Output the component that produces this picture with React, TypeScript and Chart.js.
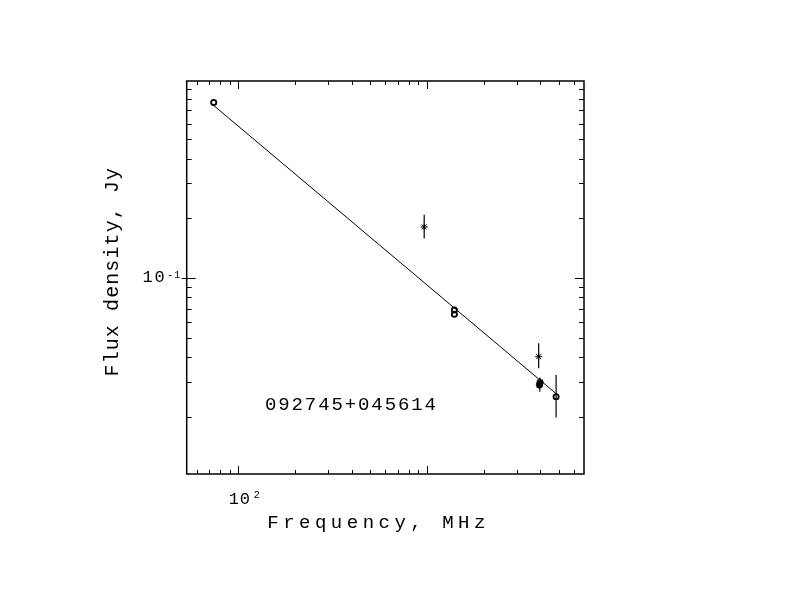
import React, { useEffect, useRef } from 'react';
import { Chart, registerables } from 'chart.js';

Chart.register(...registerables);

// axis limits (log-log)
const freqMin = 53.2;
const freqMax = 6820;
const fluxMin = 0.01026;
const fluxMax = 0.986;

// open circles
const circleFreq = [74, 1400, 1400, 4850];
const circleFlux = [0.769, 0.069, 0.0656, 0.0252];

// asterisks
const starFreq = [968, 3920, 3950, 3975, 3995];
const starFlux = [0.181, 0.0401, 0.0288, 0.0294, 0.0299];

// the dense blob near 4 GHz
const blobFreq = [3965, 3985];
const blobFlux = [0.0288, 0.0297];

// vertical error bars
const errFreq = [968, 3920, 3975, 4850];
const errLow = [0.158, 0.035, 0.0267, 0.0198];
const errHigh = [0.2085, 0.0468, 0.0315, 0.0324];

// fitted power law, end points
const fitFreq = [74, 4850];
const fitFlux = [0.742, 0.0261];

const sourceName = '092745+045614';
const xTitle = 'Frequency, MHz';
const yTitle = 'Flux density, Jy';
const xTickLabels = [{ value: 100, base: '10', exp: '2' }];
const yTickLabels = [{ value: 0.1, base: '10', exp: '-1' }];

const FONT = '"Liberation Mono", "DejaVu Sans Mono", monospace';
const INK = '#000';

// integer significand of a log tick, 0 if it is not a 1..9 x 10^n value
const significand = (v: number) => {
  const e = Math.floor(Math.log10(v) + 1e-9);
  const s = v / Math.pow(10, e);
  const r = Math.round(s);
  return Math.abs(s - r) < 1e-6 ? r : 0;
};

// fixed-advance text, like the old stroke fonts
const spaced = (ctx: CanvasRenderingContext2D, text: string, x0: number, y: number, size: number, adv: number) => {
  ctx.font = `${size}px ${FONT}`;
  ctx.textAlign = 'center';
  ctx.textBaseline = 'alphabetic';
  for (let i = 0; i < text.length; i++) {
    ctx.fillText(text[i], x0 + adv * (i + 0.5), y);
  }
};

const framePlugin = {
  id: 'frame',
  afterDraw(chart: any) {
    const { ctx, chartArea: a, scales } = chart;
    const xs = scales.x;
    const ys = scales.y;
    ctx.save();
    ctx.strokeStyle = '#000';
    ctx.lineWidth = 1.5;
    ctx.strokeRect(a.left, a.top, a.right - a.left, a.bottom - a.top);

    ctx.lineWidth = 1;
    ctx.beginPath();
    xs.ticks.forEach((t: any) => {
      const s = significand(t.value);
      if (!s) return;
      const px = Math.round(xs.getPixelForValue(t.value)) + 0.5;
      const len = s === 1 ? 8 : 4;
      ctx.moveTo(px, a.bottom);
      ctx.lineTo(px, a.bottom - len);
      ctx.moveTo(px, a.top);
      ctx.lineTo(px, a.top + len);
    });
    ys.ticks.forEach((t: any) => {
      const s = significand(t.value);
      if (!s) return;
      const py = Math.round(ys.getPixelForValue(t.value)) + 0.5;
      const len = s === 1 ? 9 : 5;
      ctx.moveTo(a.left - (s === 1 ? 5 : 0), py);
      ctx.lineTo(a.left + len, py);
      ctx.moveTo(a.right, py);
      ctx.lineTo(a.right - len, py);
    });
    ctx.stroke();

    ctx.fillStyle = INK;
    xTickLabels.forEach((l) => {
      const px = xs.getPixelForValue(l.value);
      spaced(ctx, l.base, px - 10, 503.5, 17, 11);
      spaced(ctx, l.exp, px + 15, 497.5, 10, 7);
    });
    yTickLabels.forEach((l) => {
      const py = ys.getPixelForValue(l.value);
      spaced(ctx, l.base, a.left - 45, py + 4.5, 17, 12);
      spaced(ctx, l.exp, a.left - 20, py + 0.5, 10, 7);
    });

    spaced(ctx, xTitle, 265, 527.5, 19, 15.9);
    spaced(ctx, sourceName, 264, 410, 19, 13.3);

    ctx.translate(118, 377);
    ctx.rotate(-Math.PI / 2);
    spaced(ctx, yTitle, 0, 0, 20, 13.1);
    ctx.restore();
  },
};

const App: React.FC = () => {
  const canvasRef = useRef<HTMLCanvasElement>(null);
  const chartRef = useRef<Chart | null>(null);

  useEffect(() => {
    if (!canvasRef.current) return;
    if (chartRef.current) chartRef.current.destroy();
    const ctx = canvasRef.current.getContext('2d');
    if (!ctx) return;

    const pts = (xs: number[], ys: number[]) => xs.map((x, i) => ({ x, y: ys[i] }));

    const errSets = errFreq.map((f, i) => ({
      data: [{ x: f, y: errLow[i] }, { x: f, y: errHigh[i] }],
      showLine: true,
      borderColor: '#000',
      borderWidth: 1.2,
      pointRadius: 0,
    }));

    chartRef.current = new Chart(ctx, {
      type: 'scatter',
      data: {
        datasets: [
          {
            data: pts(fitFreq, fitFlux),
            showLine: true,
            borderColor: '#000',
            borderWidth: 1,
            pointRadius: 0,
          },
          ...errSets,
          {
            data: pts(blobFreq, blobFlux),
            pointStyle: 'circle',
            pointRadius: 3,
            borderWidth: 1,
            borderColor: '#000',
            backgroundColor: '#000',
          },
          {
            data: pts(starFreq, starFlux),
            pointStyle: 'star',
            pointRadius: 3.5,
            borderWidth: 1,
            borderColor: '#000',
          },
          {
            data: pts(circleFreq, circleFlux),
            pointStyle: 'circle',
            pointRadius: 2.6,
            borderWidth: 1.8,
            borderColor: '#000',
            backgroundColor: 'rgba(255,255,255,0)',
          },
        ] as any,
      },
      options: {
        responsive: true,
        maintainAspectRatio: false,
        animation: false,
        events: [],
        layout: { padding: { left: 186.7, top: 81, right: 208, bottom: 138 } },
        plugins: {
          legend: { display: false },
          tooltip: { enabled: false },
        },
        scales: {
          x: {
            type: 'logarithmic',
            min: freqMin,
            max: freqMax,
            grid: { display: false },
            border: { display: false },
            ticks: { display: false, autoSkip: false },
            afterFit: (s: any) => { s.height = 0; },
          },
          y: {
            type: 'logarithmic',
            min: fluxMin,
            max: fluxMax,
            grid: { display: false },
            border: { display: false },
            ticks: { display: false, autoSkip: false },
            afterFit: (s: any) => { s.width = 0; },
          },
        },
      },
      plugins: [framePlugin],
    });

    return () => {
      if (chartRef.current) {
        chartRef.current.destroy();
        chartRef.current = null;
      }
    };
  }, []);

  return (
    <div style={{ position: 'fixed', left: 0, top: 0, width: 792, height: 612, background: '#fff' }}>
      <canvas ref={canvasRef}></canvas>
    </div>
  );
};

export default App;
